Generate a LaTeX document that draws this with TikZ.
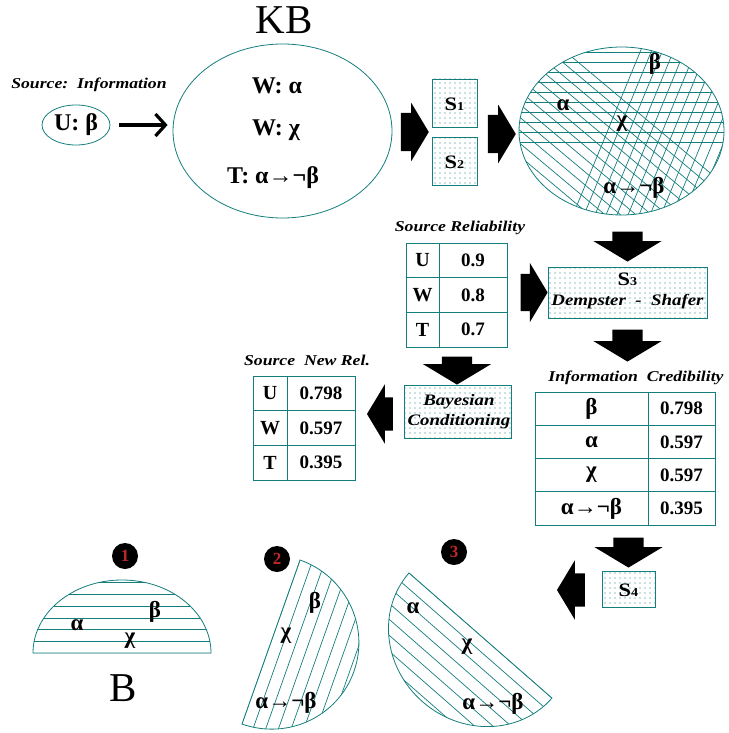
\documentclass[tikz,border=0pt]{standalone}
\usepackage{fontspec}
\setmainfont{Liberation Serif}
\newfontfamily\widefont{Liberation Serif}[FakeStretch=1.18]
\usetikzlibrary{shapes.arrows,shapes.geometric,patterns.meta,arrows.meta}
\definecolor{ink}{RGB}{20,125,125}
\definecolor{digitred}{RGB}{190,40,40}

\begin{document}
\begin{tikzpicture}[x=1pt,y=-1pt,
  outline/.style={draw=ink, line width=0.8pt},
  hatch/.style={draw=ink, line width=0.7pt},
  dotbox/.style={outline, pattern={Dots[distance=5pt,radius=0.65pt]}, pattern color=ink, inner sep=0},
  barrow/.style={single arrow, fill=black, draw=none, inner xsep=0pt,
                 single arrow tip angle=118},
  rightarrow/.style={barrow, inner ysep=19pt, single arrow head extend=10pt},
  downarrow/.style={barrow, rotate=-90, inner ysep=15pt, single arrow head extend=19pt},
  leftarrow/.style={barrow, rotate=180, inner ysep=16.5pt, single arrow head extend=13pt},
  numdot/.style={circle, fill=black, minimum size=26pt, inner sep=0, text=digitred,
                 font=\bfseries\fontsize{17}{17}\selectfont},
  cell/.style={outline, inner sep=0},
  lbl/.style={font=\widefont\bfseries\itshape\fontsize{15}{17}\selectfont, inner sep=0},
  slabel/.style={font=\widefont\bfseries\fontsize{19}{19}\selectfont, inner sep=0},
  kbtext/.style={font=\bfseries\fontsize{24}{26}\selectfont, inner sep=0},
  greek/.style={font=\bfseries\fontsize{23}{25}\selectfont, inner sep=0},
  letter/.style={font=\bfseries\fontsize{20}{22}\selectfont},
  val/.style={font=\bfseries\fontsize{19}{21}\selectfont},
  big/.style={font=\fontsize{41}{43}\selectfont, inner sep=0}
]
\useasboundingbox (0,0) rectangle (728,733);

% ---------- source and knowledge base ----------
\node[lbl] (srcinfo) at (89,85) {Source:\ \ Information};
\node[ellipse, outline, minimum width=68pt, minimum height=40pt, inner sep=0,
      font=\bfseries\fontsize{24}{26}\selectfont] (ub) at (76,125) {U: β};
\node[big] (kbtitle) at (284,20) {KB};
\node[ellipse, outline, minimum width=219pt, minimum height=174pt] (kb) at (282.5,131) {};
\node[kbtext] (kbw1) at (277,86) {W: α};
\node[kbtext] (kbw2) at (276,130) {W: χ};
\node[kbtext] (kbt) at (273,178) {T:\ α→¬β};
\draw[line width=3.2pt, -{Straight Barb[length=10pt,width=22pt]}, shorten <=9pt, shorten >=5pt]
  (ub.east) -- (kb.west |- ub.east);

% ---------- S1 / S2 ----------
\node[rightarrow, minimum height=28pt] (a1) at (409,132) {};
\node[dotbox, minimum width=45pt, minimum height=48pt] (s1) at (454.5,103) {};
\node[slabel] (s1l) at (454.5,104) {S{\fontsize{12}{12}\selectfont 1}};
\node[dotbox, minimum width=45pt, minimum height=48pt] (s2) at (454.5,161) {};
\node[slabel] (s2l) at (454.5,162) {S{\fontsize{12}{12}\selectfont 2}};
\node[rightarrow, minimum height=28pt] (a2) at (496,134) {};

% ---------- combined hatched set ----------
% horizontal hatching (upper band)
\begin{scope}
  \clip (621.5,131) ellipse [x radius=102.5pt, y radius=84pt];
  \foreach \yy in {52,62,...,142} \draw[hatch] (515,\yy) -- (728,\yy);
\end{scope}
% steep hatching (right part)
\begin{scope}
  \clip (621.5,131) ellipse [x radius=102.5pt, y radius=84pt];
  \foreach \d in {0,11,...,200} \draw[hatch] (566.8+\d,230) -- (649.1+\d,30);
\end{scope}
% falling hatching (lower-left part)
\begin{scope}
  \clip (621.5,131) ellipse [x radius=102.5pt, y radius=84pt];
  \foreach \e in {0,13,...,220} \draw[hatch] (510,5.05+\e) -- (730,189.6+\e);
\end{scope}
\node[ellipse, outline, minimum width=205pt, minimum height=168pt] (mix) at (621.5,131) {};
\node[greek] (mb) at (655,64) {β};
\node[greek] (ma) at (563,105) {α};
\node[greek] (mc) at (622,124) {χ};
\node[greek] (mab) at (634,188) {α→¬β};

% ---------- reliability and Dempster-Shafer ----------
\node[downarrow, minimum height=30pt] (a3) at (627.5,242) {};
\node[lbl] (srcrel) at (460,228) {Source Reliability};
\node[cell, minimum width=33pt, minimum height=34.7pt, letter] (rU) at (422.5,260.3) {U};
\node[cell, minimum width=68pt, minimum height=34.7pt, val] (rUv) at (473,260.3) {0.9};
\node[cell, minimum width=33pt, minimum height=34.7pt, letter] (rW) at (422.5,295) {W};
\node[cell, minimum width=68pt, minimum height=34.7pt, val] (rWv) at (473,295) {0.8};
\node[cell, minimum width=33pt, minimum height=34.7pt, letter] (rT) at (422.5,329.7) {T};
\node[cell, minimum width=68pt, minimum height=34.7pt, val] (rTv) at (473,329.7) {0.7};
\node[rightarrow, minimum height=27pt, inner ysep=18.5pt, single arrow head extend=11pt] (a4) at (528.5,292.5) {};
\node[dotbox, minimum width=159pt, minimum height=51pt] (s3) at (627.5,292.5) {};
\node[slabel] (s3l) at (627.5,279) {S{\fontsize{12}{12}\selectfont 3}};
\node[lbl, font=\widefont\bfseries\itshape\fontsize{16}{18}\selectfont] (dsl) at (627.5,302) {Dempster\ \ -\ \ Shafer};
\node[downarrow, minimum height=32pt] (a5) at (627.5,341) {};

% ---------- Bayesian conditioning ----------
\node[downarrow, minimum height=28pt] (a6) at (457,366) {};
\node[dotbox, minimum width=107pt, minimum height=53pt] (bay) at (457.5,411.5) {};
\node[font=\widefont\bfseries\itshape\fontsize{16}{20}\selectfont, align=center, inner sep=0] (bayl) at (459,412) {Bayesian\\Conditioning};
\node[leftarrow, minimum height=26pt] (a7) at (385,414) {};
\node[lbl] (newrel) at (307,360) {Source\ \ New Rel.};
\node[cell, minimum width=34pt, minimum height=34.7pt, letter] (nU) at (270,393.3) {U};
\node[cell, minimum width=68pt, minimum height=34.7pt, val] (nUv) at (321,393.3) {0.798};
\node[cell, minimum width=34pt, minimum height=34.7pt, letter] (nW) at (270,428) {W};
\node[cell, minimum width=68pt, minimum height=34.7pt, val] (nWv) at (321,428) {0.597};
\node[cell, minimum width=34pt, minimum height=34.7pt, letter] (nT) at (270,462.7) {T};
\node[cell, minimum width=68pt, minimum height=34.7pt, val] (nTv) at (321,462.7) {0.395};

% ---------- credibility ----------
\node[lbl] (infcred) at (636,378) {Information\ \ Credibility};
\node[cell, minimum width=113pt, minimum height=33.25pt, greek] (cb) at (591.5,408.6) {β};
\node[cell, minimum width=67pt, minimum height=33.25pt, val] (cbv) at (681.5,408.6) {0.798};
\node[cell, minimum width=113pt, minimum height=33.25pt, greek] (ca) at (591.5,441.9) {α};
\node[cell, minimum width=67pt, minimum height=33.25pt, val] (cav) at (681.5,441.9) {0.597};
\node[cell, minimum width=113pt, minimum height=33.25pt, greek] (cc) at (591.5,475.1) {χ};
\node[cell, minimum width=67pt, minimum height=33.25pt, val] (ccv) at (681.5,475.1) {0.597};
\node[cell, minimum width=113pt, minimum height=33.25pt, greek] (cab) at (591.5,508.4) {α→¬β};
\node[cell, minimum width=67pt, minimum height=33.25pt, val] (cabv) at (681.5,508.4) {0.395};
\node[downarrow, minimum height=30pt] (a8) at (628.5,548) {};
\node[dotbox, minimum width=53pt, minimum height=36pt] (s4) at (628.5,589) {};
\node[slabel] (s4l) at (628.5,590) {S{\fontsize{12}{12}\selectfont 4}};
\node[leftarrow, minimum height=28pt] (a9) at (576,590) {};

% ---------- resulting bases ----------
% base 1
\begin{scope}[shift={(122,653)}]
  \clip (-89pt,0pt) arc[start angle=180,end angle=0,x radius=89pt,y radius=73pt] -- cycle;
  \foreach \k in {0,...,7} \draw[hatch] (-95pt,\k*11.7pt) -- (95pt,\k*11.7pt);
\end{scope}
\draw[outline, shift={(122,653)}] (-89pt,0pt) arc[start angle=180,end angle=0,x radius=89pt,y radius=73pt] -- cycle;
\node[numdot] (n1) at (125,556) {1};
\node[greek] (b1a) at (77,625) {α};
\node[greek] (b1b) at (155,612) {β};
\node[greek] (b1c) at (130,641) {χ};
\node[big] (bname) at (123,688) {B};

% base 2
\begin{scope}[shift={(271,642)}, rotate=-109.5]
  \clip (-87pt,0pt) arc[start angle=180,end angle=0,x radius=87pt,y radius=88pt] -- cycle;
  \foreach \k in {0,...,8} \draw[hatch] (-95pt,\k*12pt) -- (95pt,\k*12pt);
\end{scope}
\draw[outline, shift={(271,642)}, rotate=-109.5] (-87pt,0pt) arc[start angle=180,end angle=0,x radius=87pt,y radius=88pt] -- cycle;
\node[numdot] (n2) at (277,559) {2};
\node[greek] (b2b) at (315,603) {β};
\node[greek] (b2c) at (286,636) {χ};
\node[greek] (b2ab) at (286,703) {α→¬β};

% base 3
\begin{scope}[shift={(480.5,635.5)}, rotate=138.8]
  \clip (-95pt,0pt) arc[start angle=180,end angle=0,x radius=95pt,y radius=88pt] -- cycle;
  \foreach \k in {0,...,8} \draw[hatch] (-100pt,\k*12pt) -- (100pt,\k*12pt);
\end{scope}
\draw[outline, shift={(480.5,635.5)}, rotate=138.8] (-95pt,0pt) arc[start angle=180,end angle=0,x radius=95pt,y radius=88pt] -- cycle;
\node[numdot] (n3) at (454,552) {3};
\node[greek] (b3a) at (413,608) {α};
\node[greek] (b3c) at (467,647) {χ};
\node[greek] (b3ab) at (493,704) {α→¬β};
\end{tikzpicture}
\end{document}
